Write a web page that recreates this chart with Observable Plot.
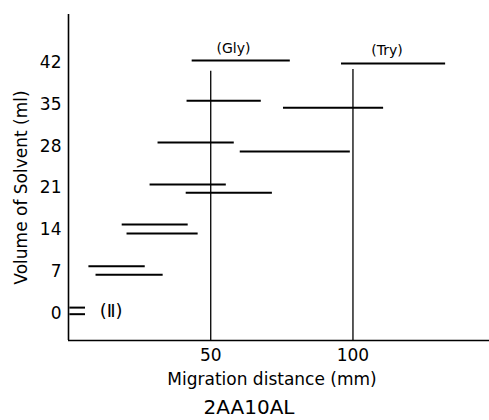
<!DOCTYPE html>
<html>
<head>
<meta charset="utf-8">
<script src="https://cdn.jsdelivr.net/npm/d3@7"></script>
<script src="https://cdn.jsdelivr.net/npm/@observablehq/plot@0.6"></script>
<style>
  html, body { margin: 0; padding: 0; background: #fff; }
  svg { display: block; }
</style>
</head>
<body>
<div id="chart"></div>
<script>
// Horizontal bands (migration start/end in mm, solvent volume in ml)
const bandStart = [43.3, 41.5, 31.3, 60.2, 28.5, 41.2, 95.8, 75.4, 18.7, 20.4, 7.0, 9.5, 0.3, 0.3];
const bandEnd   = [77.8, 67.6, 58.1, 98.9, 55.3, 71.5, 132.4, 110.6, 41.9, 45.4, 26.8, 33.1, 5.8, 5.8];
const bandVol   = [42.3, 35.6, 28.6, 27.1, 21.6, 20.2, 41.8, 34.4, 14.9, 13.4, 7.9, 6.5, 1.0, -0.1];

// Reference lines for standards
const refX   = [50, 100];
const refTop = [40.5, 40.8];

// Standard labels
const stdLabels = ["(Gly)", "(Try)"];
const stdX = [58, 112];
const stdY = [44.3, 44.0];

// Sample marker
const sampleLabel = ["(Ⅱ)"];
const sampleX = [15];
const sampleY = [0.4];

const yTicks = [0, 7, 14, 21, 28, 35, 42];
const xTicks = [50, 100];

const xTitle = "Migration distance (mm)";
const yTitle = "Volume of Solvent (ml)";
const caption = "2AA10AL";

const bands = bandStart.map((s, i) => ({s, e: bandEnd[i], v: bandVol[i]}));
const refs = refX.map((x, i) => ({x, top: refTop[i]}));
const stds = stdLabels.map((t, i) => ({t, x: stdX[i], y: stdY[i]}));
const samples = sampleLabel.map((t, i) => ({t, x: sampleX[i], y: sampleY[i]}));

const font = "DejaVu Sans, sans-serif";

const chart = Plot.plot({
  width: 489,
  height: 420,
  marginLeft: 68,
  marginRight: 0,
  marginTop: 14,
  marginBottom: 80,
  style: {fontFamily: font, fontSize: "17px", color: "#000", background: "#fff"},
  x: {domain: [0, 148], ticks: xTicks, tickSize: 0, tickPadding: 8, label: null},
  y: {domain: [-4.5, 50], ticks: yTicks, tickSize: 0, tickPadding: 7, label: null},
  marks: [
    // axis lines
    Plot.ruleX([0], {y1: -4.5, y2: 50, stroke: "#000", strokeWidth: 1.6}),
    Plot.ruleY([-4.5], {stroke: "#000", strokeWidth: 1.6}),
    // reference verticals
    Plot.ruleX(refs, {x: "x", y1: -4.5, y2: "top", stroke: "#000", strokeWidth: 1.3}),
    // bands
    Plot.link(bands, {x1: "s", x2: "e", y1: "v", y2: "v", stroke: "#000", strokeWidth: 2}),
    // labels
    Plot.text(stds, {x: "x", y: "y", text: "t", fontSize: 14, fill: "#000"}),
    Plot.text(samples, {x: "x", y: "y", text: "t", fontSize: 18, fill: "#000"}),
    // axis titles
    Plot.text([xTitle], {frameAnchor: "bottom", dx: -7, dy: 44, fontSize: 17, fill: "#000"}),
    Plot.text([yTitle], {frameAnchor: "left", textAnchor: "middle", rotate: -90, dx: -47, dy: 10, fontSize: 17, fill: "#000"}),
    Plot.text([caption], {frameAnchor: "bottom", dx: -30, dy: 73, fontSize: 20, fill: "#000"})
  ]
});
document.getElementById("chart").appendChild(chart);
</script>
</body>
</html>
